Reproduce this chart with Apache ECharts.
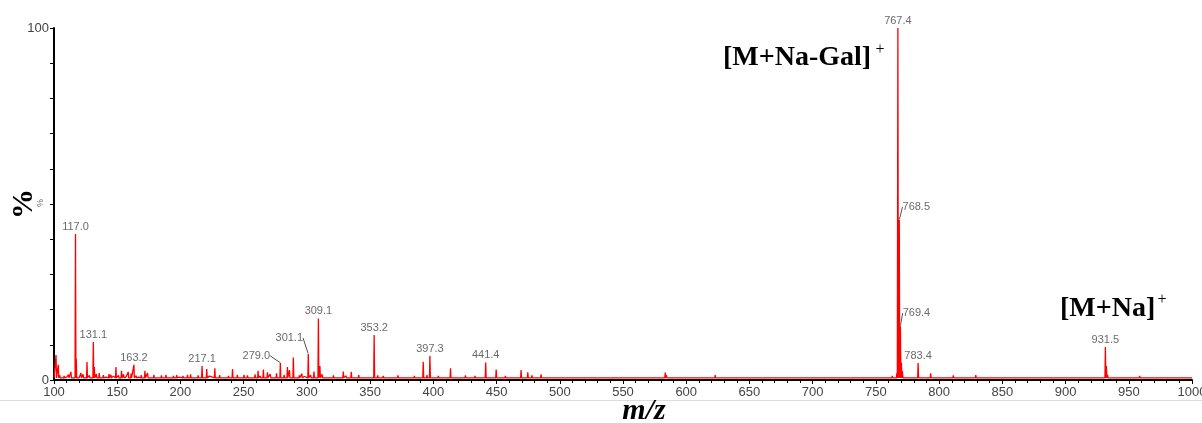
<!DOCTYPE html>
<html>
<head>
<meta charset="utf-8">
<script src="https://cdn.jsdelivr.net/npm/echarts@6/dist/echarts.min.js"></script>
<style>
html,body{margin:0;padding:0;background:#fff;}
#chart{width:1202px;height:423px;}
</style>
</head>
<body>
<div id="chart"></div>
<script>
// ---- data ----
const xTicks = [100, 1000, 50];          // m/z axis min, max, major step
const yTicks = [0, 100, 10];             // % axis min, max, step
const baseLevel = 0.6;                   // baseline intensity (%)

// [m/z, relative intensity %]
const mainPeaks = [
  [101.6, 7.1], [103.4, 4.3], [113.4, 2.3], [117.0, 41.5], [117.6, 6.0],
  [121.3, 2.0], [126.1, 5.1], [131.1, 10.8], [131.9, 3.7], [135.8, 2.0],
  [143.5, 1.7], [149.0, 3.7], [153.4, 2.6], [158.7, 2.3], [163.2, 4.3],
  [171.9, 2.6], [174.0, 2.0], [188.5, 1.5], [194.5, 1.2], [205.6, 1.5],
  [217.1, 4.0], [220.8, 3.1], [227.2, 3.3], [241.2, 3.1], [250.3, 1.5],
  [261.4, 2.6], [265.6, 3.0], [268.8, 2.2], [279.0, 4.9], [284.6, 3.7],
  [286.2, 2.8], [289.3, 6.4], [301.1, 7.4], [305.6, 2.4], [309.1, 17.5],
  [310.3, 4.0], [328.8, 2.4], [335.1, 2.3], [353.2, 12.8], [360.4, 1.2],
  [392.0, 5.2], [397.3, 6.9], [413.6, 3.3], [425.4, 1.3], [441.4, 5.0],
  [449.7, 3.0], [469.4, 2.8], [474.7, 2.2], [485.2, 1.6], [490.0, 1.0],
  [583.4, 2.1], [584.3, 1.4], [622.9, 1.4], [766.6, 2.0], [767.4, 100],
  [768.5, 45.5], [769.4, 15.3], [770.2, 5.0], [771.0, 2.5], [783.4, 4.8],
  [793.3, 1.9], [811.2, 1.3], [829.0, 1.4], [931.5, 9.4], [932.3, 4.0],
  [933.2, 1.5], [958.6, 1.2]
];

// small baseline noise spikes [m/z, %]
const noisePeaks = [
  [104.5, 1.4], [106.0, 0.9], [108.0, 1.2], [110.0, 0.8], [111.5, 1.5],
  [119.5, 1.1], [123.0, 1.6], [124.5, 0.9], [128.0, 1.3], [133.5, 1.7],
  [137.0, 1.0], [139.0, 1.4], [141.0, 0.8], [145.0, 1.5], [147.0, 1.1],
  [151.0, 1.3], [155.0, 1.6], [157.0, 0.9], [161.0, 1.8], [165.0, 1.2],
  [167.0, 0.8], [169.0, 1.4], [177.0, 1.1], [179.0, 1.5], [182.0, 0.9],
  [185.0, 1.3], [191.0, 1.0], [197.0, 1.4], [199.0, 0.8], [202.0, 1.2],
  [208.0, 1.6], [211.0, 0.9], [214.0, 1.3], [223.0, 1.1], [231.0, 1.4],
  [235.0, 0.9], [238.0, 1.2], [245.0, 1.5], [248.0, 0.8], [253.0, 1.3],
  [256.0, 1.0], [259.0, 1.6], [263.0, 1.2], [271.0, 1.7], [274.0, 1.1],
  [276.0, 1.9], [282.0, 1.5], [294.0, 1.3], [296.0, 1.8], [298.0, 1.0],
  [303.0, 1.4], [312.0, 1.6], [316.0, 1.0], [321.0, 1.3], [325.0, 0.9],
  [331.0, 1.2], [338.0, 1.0], [341.0, 1.4], [345.0, 0.8], [349.0, 1.1],
  [356.0, 1.3], [364.0, 0.9], [368.0, 1.1], [372.0, 1.3], [377.0, 0.8],
  [381.0, 1.0], [385.0, 1.2], [388.0, 0.9], [395.0, 1.4], [401.0, 1.0],
  [404.0, 1.2], [408.0, 0.8], [417.0, 1.1], [420.0, 0.9], [429.0, 1.0],
  [433.0, 1.2], [437.0, 0.8], [445.0, 1.1], [453.0, 0.9], [457.0, 1.2],
  [461.0, 0.8], [465.0, 1.0], [478.0, 1.3], [481.0, 0.9], [494.0, 1.1],
  [498.0, 0.8], [503.0, 1.0], [509.0, 0.9], [515.0, 1.1], [521.0, 0.8],
  [527.0, 1.0], [533.0, 0.9], [541.0, 1.0], [548.0, 0.8], [556.0, 1.0],
  [562.0, 0.9], [569.0, 0.8], [576.0, 1.0], [591.0, 0.9], [597.0, 0.8],
  [604.0, 1.0], [611.0, 0.9], [618.0, 0.8], [629.0, 0.9], [636.0, 1.0],
  [644.0, 0.8], [652.0, 0.9], [659.0, 0.8], [667.0, 1.0], [674.0, 0.8],
  [682.0, 0.9], [689.0, 0.8], [697.0, 0.9], [704.0, 0.8], [712.0, 0.9],
  [719.0, 0.8], [727.0, 0.9], [734.0, 0.8], [741.0, 1.0], [748.0, 0.9],
  [755.0, 1.1], [760.0, 1.0], [763.0, 1.2], [776.0, 1.0], [789.0, 1.1],
  [798.0, 0.9], [803.0, 1.0], [807.0, 0.8], [816.0, 1.0], [822.0, 0.9],
  [836.0, 0.8], [843.0, 0.9], [851.0, 0.8], [858.0, 0.9], [866.0, 0.8],
  [874.0, 0.9], [882.0, 0.8], [889.0, 0.9], [897.0, 0.8], [905.0, 0.9],
  [912.0, 0.8], [920.0, 0.9], [926.0, 0.8], [944.0, 0.9], [951.0, 0.8],
  [966.0, 0.9], [973.0, 0.8], [981.0, 0.9], [989.0, 0.8], [996.0, 0.9]
];

// peaks carrying an m/z label
const labelledMz = [117.0, 131.1, 163.2, 217.1, 309.1, 353.2, 397.3, 441.4, 767.4, 783.4, 931.5];
const leaderMz = [279.0, 301.1, 768.5, 769.4];

// ---- build the profile trace ----
const halfWidth = 0.35;
const allPeaks = mainPeaks.concat(noisePeaks).sort((a, b) => a[0] - b[0]);
const trace = [[xTicks[0], baseLevel]];
allPeaks.forEach(p => {
  trace.push([p[0] - halfWidth, baseLevel]);
  trace.push([p[0], p[1]]);
  trace.push([p[0] + halfWidth, baseLevel]);
});
trace.push([xTicks[1], baseLevel]);

const intensityOf = mz => mainPeaks.find(p => p[0] === mz)[1];
const labelData = labelledMz.map(mz => [mz, intensityOf(mz)]);
const leaderData = leaderMz.map(mz => [mz, intensityOf(mz)]);
// label centre offsets (px) for labels drawn with leader lines
const leaderOffsets = [[-24, -7], [-19, -16], [17, -13], [16, -13]];

const chart = echarts.init(document.getElementById('chart'), null, {renderer: 'canvas'});
const labelFont = {fontFamily: '"Liberation Sans", Arial, sans-serif', fontSize: 11, color: '#444'};

chart.setOption({
  animation: false,
  backgroundColor: '#ffffff',
  grid: {left: 54, right: 10, top: 28, bottom: 43, containLabel: false, outerBoundsMode: 'none'},
  xAxis: {
    type: 'value', min: xTicks[0], max: xTicks[1], interval: xTicks[2],
    axisLine: {show: true, onZero: false, lineStyle: {color: '#000', width: 2}},
    axisTick: {show: true, length: 4, lineStyle: {color: '#000'}},
    minorTick: {show: true, splitNumber: 5, length: 3, lineStyle: {color: '#000'}},
    splitLine: {show: false},
    minorSplitLine: {show: false},
    axisLabel: {show: true, margin: 6, fontFamily: '"Liberation Sans", Arial, sans-serif', fontSize: 13, color: '#444',
      showMaxLabel: true, showMinLabel: true, hideOverlap: false, formatter: v => String(v)}
  },
  yAxis: {
    type: 'value', min: yTicks[0], max: yTicks[1], interval: yTicks[2],
    axisLine: {show: true, lineStyle: {color: '#000', width: 2}},
    axisTick: {show: true, length: 4, lineStyle: {color: '#000'}},
    splitLine: {show: false},
    axisLabel: {show: true, margin: 5, fontFamily: '"Liberation Sans", Arial, sans-serif', fontSize: 13, color: '#444',
      formatter: v => (v === yTicks[0] || v === yTicks[1]) ? String(v) : ''}
  },
  series: [
    {
      type: 'line', data: trace, showSymbol: false, symbol: 'none', silent: true,
      lineStyle: {color: '#ff0000', width: 1.3}, z: 2
    },
    {
      type: 'scatter', data: labelData, symbol: 'circle', symbolSize: 1, silent: true,
      itemStyle: {color: 'transparent'}, z: 5,
      label: Object.assign({show: true, position: 'top', distance: 1,
        formatter: p => p.value[0].toFixed(1)}, labelFont)
    },
    {
      type: 'scatter', data: leaderData, symbol: 'circle', symbolSize: 1, silent: true,
      itemStyle: {color: 'transparent'}, z: 5,
      label: Object.assign({show: true, position: 'inside',
        formatter: p => p.value[0].toFixed(1)}, labelFont),
      labelLine: {show: true, lineStyle: {color: '#555', width: 1}},
      labelLayout: params => ({dx: leaderOffsets[params.dataIndex][0], dy: leaderOffsets[params.dataIndex][1]})
    }
  ],
  graphic: [
    {type: 'line', silent: true, shape: {x1: 0, y1: 400.5, x2: 1202, y2: 400.5},
      style: {stroke: '#dcdcdc', lineWidth: 1}},
    {type: 'text', silent: true, x: 24, y: 204, rotation: Math.PI / 2,
      style: {text: '%', font: 'bold 30px "Liberation Serif", "Times New Roman", serif', fill: '#000', align: 'center', verticalAlign: 'middle'}},
    {type: 'text', silent: true, x: 41, y: 203, rotation: Math.PI / 2,
      style: {text: '%', font: '9px "Liberation Sans", Arial, sans-serif', fill: '#666', align: 'center', verticalAlign: 'middle'}},
    {type: 'text', silent: true, x: 723, y: 58,
      style: {text: '[M+Na-Gal]', font: 'bold 28px "Liberation Serif", "Times New Roman", serif', fill: '#000', align: 'left', verticalAlign: 'middle'}},
    {type: 'text', silent: true, x: 880, y: 50,
      style: {text: '+', font: '16px "Liberation Serif", "Times New Roman", serif', fill: '#000', align: 'center', verticalAlign: 'middle'}},
    {type: 'text', silent: true, x: 1060, y: 309,
      style: {text: '[M+Na]', font: 'bold 28px "Liberation Serif", "Times New Roman", serif', fill: '#000', align: 'left', verticalAlign: 'middle'}},
    {type: 'text', silent: true, x: 1162, y: 300,
      style: {text: '+', font: '16px "Liberation Serif", "Times New Roman", serif', fill: '#000', align: 'center', verticalAlign: 'middle'}},
    {type: 'text', silent: true, x: 644, y: 411,
      style: {text: 'm/z', font: 'italic bold 30px "Liberation Serif", "Times New Roman", serif', fill: '#000', align: 'center', verticalAlign: 'middle'}}
  ]
});
</script>
</body>
</html>
